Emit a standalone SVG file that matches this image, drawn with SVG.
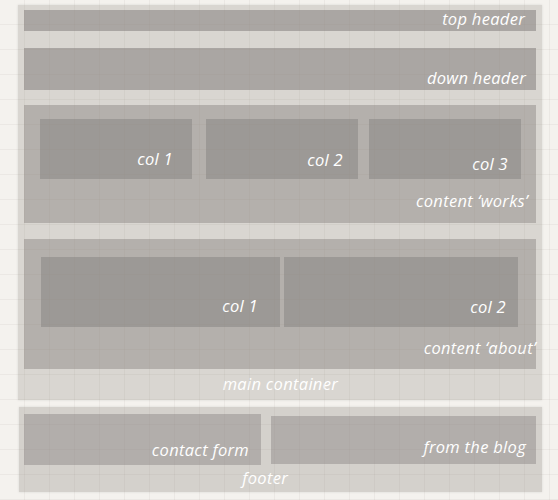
<svg xmlns="http://www.w3.org/2000/svg" width="558" height="500" viewBox="0 0 558 500">
<defs>
<pattern id="grid" width="25" height="25" patternUnits="userSpaceOnUse">
<path d="M25 0V25M0 25H25" fill="none" stroke="#8a8276" stroke-opacity="0.18" stroke-width="1"/>
</pattern>
<filter id="sh" x="-5%" y="-5%" width="110%" height="110%">
<feDropShadow dx="0" dy="0" stdDeviation="1.2" flood-color="#000" flood-opacity="0.12"/>
</filter>
</defs>
<style>
.lbl{font-family:"Open Sans","DejaVu Sans",sans-serif;font-style:italic;font-size:16.5px;letter-spacing:0.3px;fill:#ffffff;text-anchor:end}
.main{fill:#d9d6d1}
.sec{fill:#b4b0ac}
.hdr{fill:#aaa6a3}
.col{fill:#9c9996}
.foot{fill:#d4d1cc}
.fsub{fill:#b2aeab}
</style>
<rect width="558" height="500" fill="#f4f2ee"/>
<g id="main-container">
<rect class="main" x="18" y="5" width="524" height="395" filter="url(#sh)"/>
<text class="lbl" x="338" y="390">main container</text>
</g>
<g id="top-header">
<rect class="hdr" x="24" y="10" width="512" height="21"/>
<text class="lbl" x="525" y="25">top header</text>
</g>
<g id="down-header">
<rect class="hdr" x="24" y="48" width="512" height="42"/>
<text class="lbl" x="526" y="84">down header</text>
</g>
<g id="content-works">
<rect class="sec" x="24" y="105" width="512" height="118"/>
<text class="lbl" x="528" y="207">content ‘works’</text>
</g>
<g id="works-col1">
<rect class="col" x="40" y="119" width="152" height="60"/>
<text class="lbl" x="173" y="165">col 1</text>
</g>
<g id="works-col2">
<rect class="col" x="206" y="119" width="152" height="60"/>
<text class="lbl" x="343" y="166">col 2</text>
</g>
<g id="works-col3">
<rect class="col" x="369" y="119" width="152" height="60"/>
<text class="lbl" x="508" y="170">col 3</text>
</g>
<g id="content-about">
<rect class="sec" x="24" y="239" width="512" height="130"/>
<text class="lbl" x="536" y="354">content ‘about’</text>
</g>
<g id="about-col1">
<rect class="col" x="41" y="257" width="239" height="70"/>
<text class="lbl" x="258" y="312">col 1</text>
</g>
<g id="about-col2">
<rect class="col" x="284" y="257" width="234" height="70"/>
<text class="lbl" x="506" y="313">col 2</text>
</g>
<g id="footer">
<rect class="foot" x="19" y="407" width="523" height="85" filter="url(#sh)"/>
<text class="lbl" x="288" y="484">footer</text>
</g>
<g id="contact-form">
<rect class="fsub" x="24" y="414" width="237" height="51"/>
<text class="lbl" x="249" y="456">contact form</text>
</g>
<g id="from-the-blog">
<rect class="fsub" x="271" y="416" width="265" height="48"/>
<text class="lbl" x="526" y="453">from the blog</text>
</g>
<g id="connectors"/>
<rect width="558" height="500" fill="url(#grid)" pointer-events="none"/>
</svg>
